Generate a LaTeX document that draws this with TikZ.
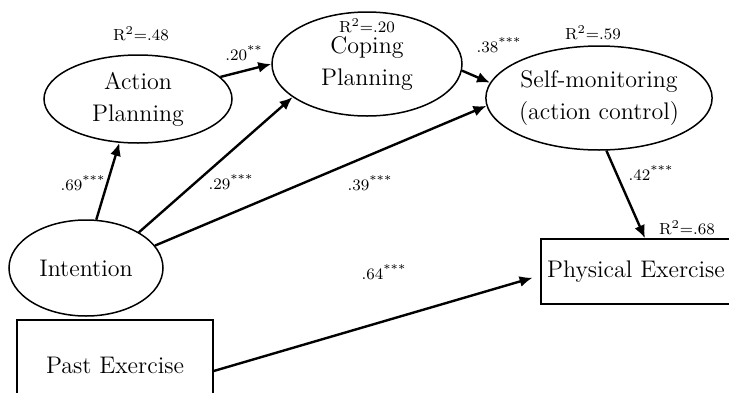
\documentclass[tikz,border=0pt]{standalone}
\usepackage{amsmath}
\usepackage{tikz}
\usetikzlibrary{arrows.meta,shapes.geometric}

\begin{document}
\begin{tikzpicture}[x=0.5pt,y=-0.5pt,
	latent/.style={draw,ellipse,line width=0.75pt,inner sep=0pt,align=center,font=\large},
	observed/.style={draw,rectangle,line width=0.75pt,inner sep=0pt,font=\large},
	effect/.style={-{Latex[length=6.5pt,width=5.5pt]},line width=1.2pt},
	coef/.style={font=\footnotesize},
	]
	\useasboundingbox (0,0) rectangle (729,392);
	%
	\node[latent,minimum width=94pt,minimum height=44pt] (1) at (138,99) {Action\\[2pt]Planning};
	\node[latent,minimum width=95pt,minimum height=52pt] (2) at (367,64) {Coping\\[2pt]Planning};
	\node[latent,minimum width=104pt,minimum height=52pt] (3) at (599,98) {Self-monitoring\\[2pt](action control)};
	\node[latent,minimum width=77pt,minimum height=48pt] (4) at (86,268) {Intention};
	\node[observed,minimum width=98pt,minimum height=45pt] (5) at (115,365) {Past Exercise};
	\node[observed,minimum width=95pt,minimum height=32.5pt] (6) at (636,271.5) {Physical Exercise};
	%
	\node[coef] (r1) at (141,34) {R$^2$=.48};
	\node[coef] (r2) at (367,26) {R$^2$=.20};
	\node[coef] (r3) at (593,33) {R$^2$=.59};
	\node[coef] (r6) at (687,228) {R$^2$=.68};
	%
	\draw [effect] (4.78) to[] (1.247);
	\draw [effect] (4.34) to[] (2.204);
	\draw [effect] (4.18) to[] (3.184);
	\draw [effect] (1.15) to[] (2.west);
	\draw [effect] (2.-4) to[] (3.172);
	\draw [effect] (3.-82) to[] ([xshift=4.5pt]6.north);
	\draw [effect,shorten >=4pt] ([yshift=-3pt]5.east) to[] ([yshift=-2pt]6.west);
	%
	\node[coef] (c41) at (83,183) {.69\textsuperscript{***}};
	\node[coef] (c42) at (231,182) {.29\textsuperscript{***}};
	\node[coef] (c43) at (370,183) {.39\textsuperscript{***}};
	\node[coef] (c12) at (244,53) {.20\textsuperscript{**}};
	\node[coef] (c23) at (499,45) {.38\textsuperscript{***}};
	\node[coef] (c36) at (651,173) {.42\textsuperscript{***}};
	\node[coef] (c56) at (384,272) {.64\textsuperscript{***}};
\end{tikzpicture}
\end{document}
